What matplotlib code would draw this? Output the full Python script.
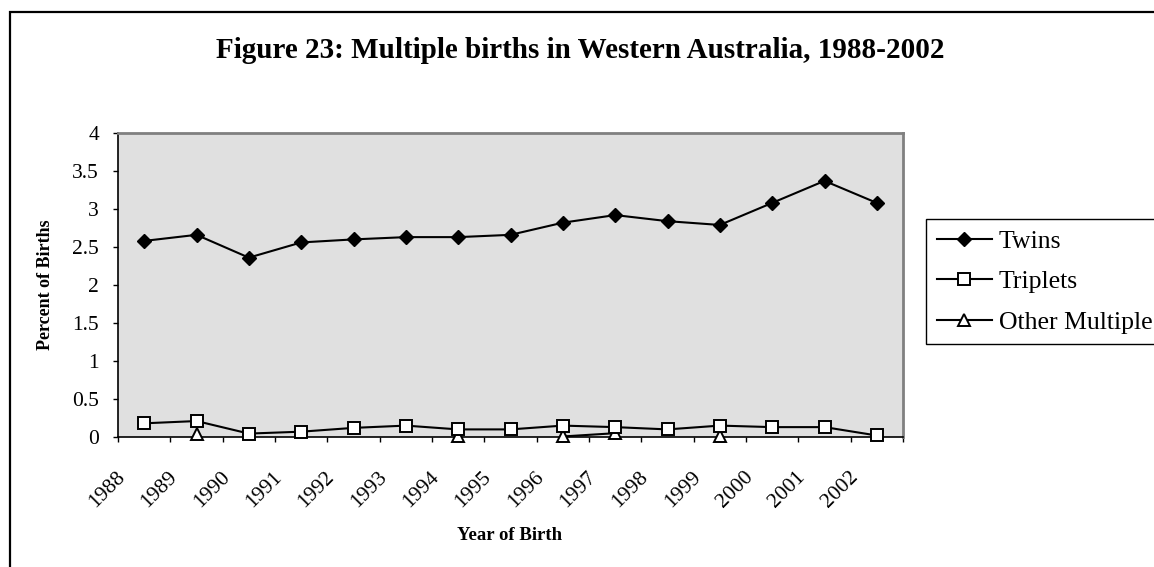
import numpy as np
import matplotlib
matplotlib.use('Agg')
import matplotlib.pyplot as plt
from matplotlib.patches import Rectangle
from matplotlib.transforms import ScaledTranslation

years = ['1988', '1989', '1990', '1991', '1992', '1993', '1994', '1995',
         '1996', '1997', '1998', '1999', '2000', '2001', '2002']
twins = [2.58, 2.66, 2.36, 2.56, 2.60, 2.63, 2.63, 2.66,
         2.82, 2.92, 2.84, 2.79, 3.08, 3.37, 3.08]
triplets = [0.18, 0.21, 0.045, 0.07, 0.12, 0.15, 0.10, 0.10,
            0.15, 0.13, 0.10, 0.15, 0.13, 0.13, 0.02]
other = [np.nan, 0.045, np.nan, np.nan, np.nan, np.nan, 0.007, np.nan,
         0.007, 0.05, np.nan, 0.007, np.nan, np.nan, np.nan]
yticks = [0, 0.5, 1, 1.5, 2, 2.5, 3, 3.5, 4]
ytick_labels = ['0', '0.5', '1', '1.5', '2', '2.5', '3', '3.5', '4']

plt.rcParams['font.family'] = ['Liberation Serif', 'DejaVu Serif']

W, H = 1154, 567
fig = plt.figure(figsize=(W / 100, H / 100), dpi=100)

# outer chart border (right/bottom run off the picture)
fig.patches.append(Rectangle((10 / W, -0.2), 1.3, 1.2 - 12 / H, transform=fig.transFigure,
                             fill=False, edgecolor='black', linewidth=1.6))

ax = fig.add_axes([118 / W, 1 - 437 / H, (903 - 118) / W, (437 - 133) / H])
ax.set_facecolor('#e0e0e0')

x = np.arange(len(years))
ax.plot(x, twins, color='black', lw=1.5, marker='D', ms=7.5, mfc='black', mec='black',
        label='Twins', zorder=5, clip_on=False)
ax.plot(x, triplets, color='black', lw=1.5, marker='s', ms=8.5, mfc='white', mec='black',
        mew=1.4, label='Triplets', zorder=6, clip_on=False)
ax.plot(x, other, color='black', lw=1.5, marker='^', ms=8, mfc='white', mec='black',
        mew=1.4, label='Other Multiple', zorder=5, clip_on=False)

ax.set_xlim(-0.5, len(years) - 0.5)
ax.set_ylim(0, 4)
ax.set_yticks(yticks)
ax.set_yticklabels(ytick_labels, fontsize=15.5)
ax.tick_params(axis='y', direction='out', length=3.6, width=1, pad=10)

# category labels at centres, tick marks at boundaries
ax.set_xticks(x)
ax.set_xticklabels(years, fontsize=15.5, rotation=45, ha='right', va='top')
ax.tick_params(axis='x', which='major', length=0, pad=22)
ax.set_xticks(np.arange(-0.5, len(years)), minor=True)
ax.tick_params(axis='x', which='minor', direction='out', length=3.6, width=1)
shift = ScaledTranslation(-15 / 100, 0, fig.dpi_scale_trans)
for lab in ax.get_xticklabels():
    lab.set_transform(lab.get_transform() + shift)

for s in ['left', 'bottom']:
    ax.spines[s].set_color('black')
    ax.spines[s].set_linewidth(1.2)
for s in ['top', 'right']:
    ax.spines[s].set_color('#808080')
    ax.spines[s].set_linewidth(2)

fig.text(580 / W, 1 - 51 / H, 'Figure 23: Multiple births in Western Australia, 1988-2002',
         ha='center', va='center', fontsize=21, fontweight='bold')
fig.text(45 / W, 1 - 285 / H, 'Percent of Births', rotation=90, ha='center', va='center',
         fontsize=13, fontweight='bold')
fig.text(510 / W, 1 - 535 / H, 'Year of Birth', ha='center', va='center',
         fontsize=13.5, fontweight='bold')

leg = fig.legend(loc='upper left', bbox_to_anchor=(926 / W, 1 - 219 / H), borderaxespad=0,
                 fontsize=18.5, frameon=True, fancybox=False, shadow=False,
                 handlelength=2.15, handletextpad=0.27, labelspacing=0.68, borderpad=0.42,
                 numpoints=1)
leg.get_frame().set_edgecolor('black')
leg.get_frame().set_linewidth(1)
leg.get_frame().set_alpha(None)
leg.get_frame().set_facecolor('white')

fig.savefig('out.png', dpi=100)
